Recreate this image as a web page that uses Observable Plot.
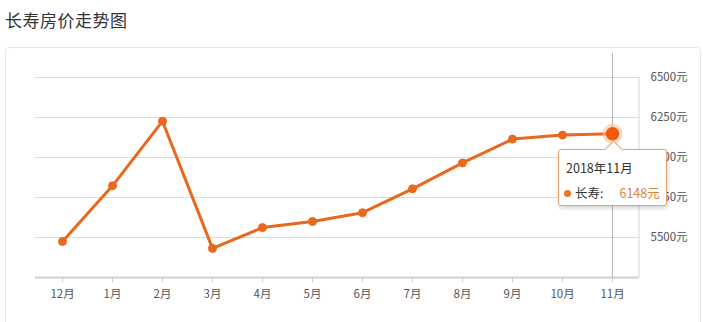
<!DOCTYPE html>
<html>
<head>
<meta charset="utf-8">
<script src="https://cdn.jsdelivr.net/npm/d3@7"></script>
<script src="https://cdn.jsdelivr.net/npm/@observablehq/plot@0.6"></script>
<style>
  html, body { margin: 0; padding: 0; background: #fff; }
  body { width: 703px; height: 322px; overflow: hidden; position: relative;
         font-family: "Microsoft YaHei", "Noto Sans CJK SC", sans-serif; }
  #title { position: absolute; left: 5px; top: 7px; font-size: 17px; color: #333; letter-spacing: 0.5px; }
  #panel { position: absolute; left: 5px; top: 47px; width: 694px; height: 300px;
           border: 1px solid #e6e6e6; border-radius: 4px; }
  #chart { position: absolute; left: 0; top: 48px; }
  #tip { position: absolute; background: #fff; border: 1px solid #e9a36a; border-radius: 3px;
         box-shadow: 1px 2px 4px rgba(0,0,0,0.18); width: 109px; height: 57px; box-sizing: border-box;
         font-size: 12.5px; color: #333; }
  #tip .arrow { position: absolute; top: -7px; width: 12px; height: 12px; background: #fff;
         border-left: 1px solid #e9a36a; border-top: 1px solid #e9a36a; transform: rotate(45deg); }
  #tip .t1 { position: absolute; left: 7px; top: 8px; white-space: nowrap; }
  #tip .t2 { position: absolute; left: 5px; top: 33px; white-space: nowrap; }
  #tip .dot { display: inline-block; width: 7px; height: 7px; border-radius: 50%; background: #e8762e;
         margin-right: 4px; vertical-align: 1px; }
  #tip .val { color: #d9843f; margin-left: 16px; }
</style>
</head>
<body>
<div id="title">长寿房价走势图</div>
<div id="panel"></div>
<div id="chart"></div>
<div id="tip"><div class="arrow"></div><div class="t1"></div><div class="t2"></div></div>
<script>
const months = ["12月","1月","2月","3月","4月","5月","6月","7月","8月","9月","10月","11月"];
const prices = [5475, 5823, 6227, 5432, 5562, 5600, 5655, 5804, 5966, 6115, 6140, 6148];
const yTicks = [5500, 5750, 6000, 6250, 6500];
const yDomain = [5250, 6500];
const seriesName = "长寿";
const tipTitle = "2018年11月";
const unit = "元";

const data = months.map((m, i) => ({month: m, price: prices[i]}));
const last = data[data.length - 1];
const lineColor = "#e8681e";

const chart = Plot.plot({
  width: 703,
  height: 274,
  marginLeft: 35,
  marginRight: 64,
  marginTop: 29,
  marginBottom: 45,
  style: {fontSize: "11.5px", fontFamily: "'Microsoft YaHei','Noto Sans CJK SC',sans-serif", color: "#555", background: "transparent", overflow: "visible"},
  x: {type: "band", domain: months, padding: 0, label: null},
  y: {domain: yDomain, label: null},
  marks: [
    Plot.ruleY(yTicks, {stroke: "#dcdcdc", strokeWidth: 1}),
    Plot.ruleX([last], {x: "month", y1: yDomain[0], y2: 6650, stroke: "#b8b8b8", strokeWidth: 1}),
    Plot.ruleY([yDomain[0]], {stroke: "#cfcfcf", strokeWidth: 2}),
    Plot.axisY({anchor: "right", ticks: yTicks, tickSize: 0, tickPadding: 11, textAnchor: "start",
                tickFormat: d => d + unit, fill: "#555", label: null}),
    Plot.axisX({anchor: "bottom", tickSize: 5, tickPadding: 7, stroke: "#ccc", fill: "#555", label: null}),
    Plot.line(data, {x: "month", y: "price", stroke: lineColor, strokeWidth: 3, strokeLinejoin: "round"}),
    Plot.dot(data.slice(0, -1), {x: "month", y: "price", r: 4, fill: lineColor, stroke: lineColor, strokeWidth: 1}),
    Plot.dot([last], {x: "month", y: "price", r: 10, fill: "#f6b98e", fillOpacity: 0.55}),
    Plot.dot([last], {x: "month", y: "price", r: 6, fill: "#f05a0a", stroke: "#f05a0a"})
  ]
});
const svg = d3.select(chart);
const xs = chart.scale("x"), ys = chart.scale("y");
const xRight = xs.range[1];
svg.append("line").attr("x1", xRight).attr("x2", xRight)
  .attr("y1", ys.apply(yDomain[1])).attr("y2", ys.apply(yDomain[0]))
  .attr("stroke", "#d6d6d6");
document.getElementById("chart").appendChild(chart);

const px = xs.apply(last.month) + xs.bandwidth / 2;
const py = ys.apply(last.price) + 48;
const tip = document.getElementById("tip");
tip.style.left = (px - 54) + "px";
tip.style.top = (py + 16) + "px";
tip.querySelector(".arrow").style.left = (54 - 6) + "px";
tip.querySelector(".t1").textContent = tipTitle;
tip.querySelector(".t2").innerHTML = `<span class="dot"></span>${seriesName}:<span class="val">${last.price}${unit}</span>`;
</script>
</body>
</html>
